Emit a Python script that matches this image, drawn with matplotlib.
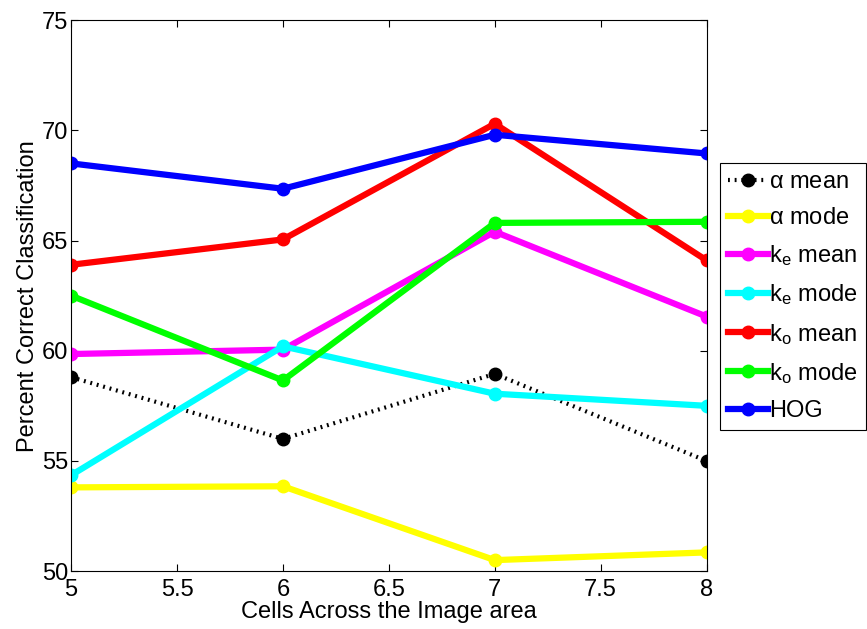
import numpy as np
import matplotlib.pyplot as plt

plt.rcParams['font.family'] = ['Liberation Sans', 'DejaVu Sans']
plt.rcParams['mathtext.fontset'] = 'custom'
plt.rcParams['mathtext.rm'] = 'Liberation Sans'
plt.rcParams['mathtext.it'] = 'Liberation Sans'

cells = [5, 6, 7, 8]

alpha_mean = [58.8, 56.0, 58.95, 55.0]
alpha_mode = [53.8, 53.85, 50.5, 50.85]
ke_mean = [59.85, 60.05, 65.4, 61.55]
ke_mode = [54.35, 60.2, 58.05, 57.5]
ko_mean = [63.9, 65.05, 70.3, 64.1]
ko_mode = [62.5, 58.65, 65.8, 65.85]
hog = [68.5, 67.35, 69.8, 68.95]

labels = [r'$\alpha$ mean', r'$\alpha$ mode',
          r'k$_\mathrm{e}$ mean', r'k$_\mathrm{e}$ mode',
          r'k$_\mathrm{o}$ mean', r'k$_\mathrm{o}$ mode', 'HOG']
colors = ['black', '#ffff00', '#ff00ff', '#00ffff', '#ff0000', '#00ff00', '#0000ff']
series = [alpha_mean, alpha_mode, ke_mean, ke_mode, ko_mean, ko_mode, hog]

fig = plt.figure(figsize=(8.67, 6.29), dpi=100)
ax = fig.add_axes([0.082, 0.092, 0.733, 0.876])

for vals, lab, c in zip(series, labels, colors):
    if c == 'black':
        ax.plot(cells, vals, color=c, lw=3, linestyle=(0, (0.45, 1.15)),
                marker='o', markersize=9, label=lab)
    else:
        ax.plot(cells, vals, color=c, lw=4.5, marker='o', markersize=9,
                label=lab)

fs = 17
ax.set_xlim(5, 8)
ax.set_ylim(50, 75)
ax.set_xticks([5, 5.5, 6, 6.5, 7, 7.5, 8])
ax.set_xticklabels(['5', '5.5', '6', '6.5', '7', '7.5', '8'])
ax.set_yticks([50, 55, 60, 65, 70, 75])
ax.tick_params(direction='in', labelsize=fs, top=True, right=True, length=5)
ax.tick_params(axis='x', pad=6)
ax.tick_params(axis='y', pad=2)
ax.set_xlabel('Cells Across the Image area', fontsize=fs, labelpad=0)
ax.set_ylabel('Percent Correct Classification', fontsize=fs, labelpad=2)

leg = ax.legend(loc='upper left', bbox_to_anchor=(0.830, 0.741),
                bbox_transform=fig.transFigure, fontsize=fs, fancybox=False,
                framealpha=1, edgecolor='black', handlelength=1.7,
                handletextpad=0.05, labelspacing=0.6, borderaxespad=0,
                borderpad=0.35)
leg.get_frame().set_linewidth(0.8)

fig.savefig('out.png', dpi=100)
